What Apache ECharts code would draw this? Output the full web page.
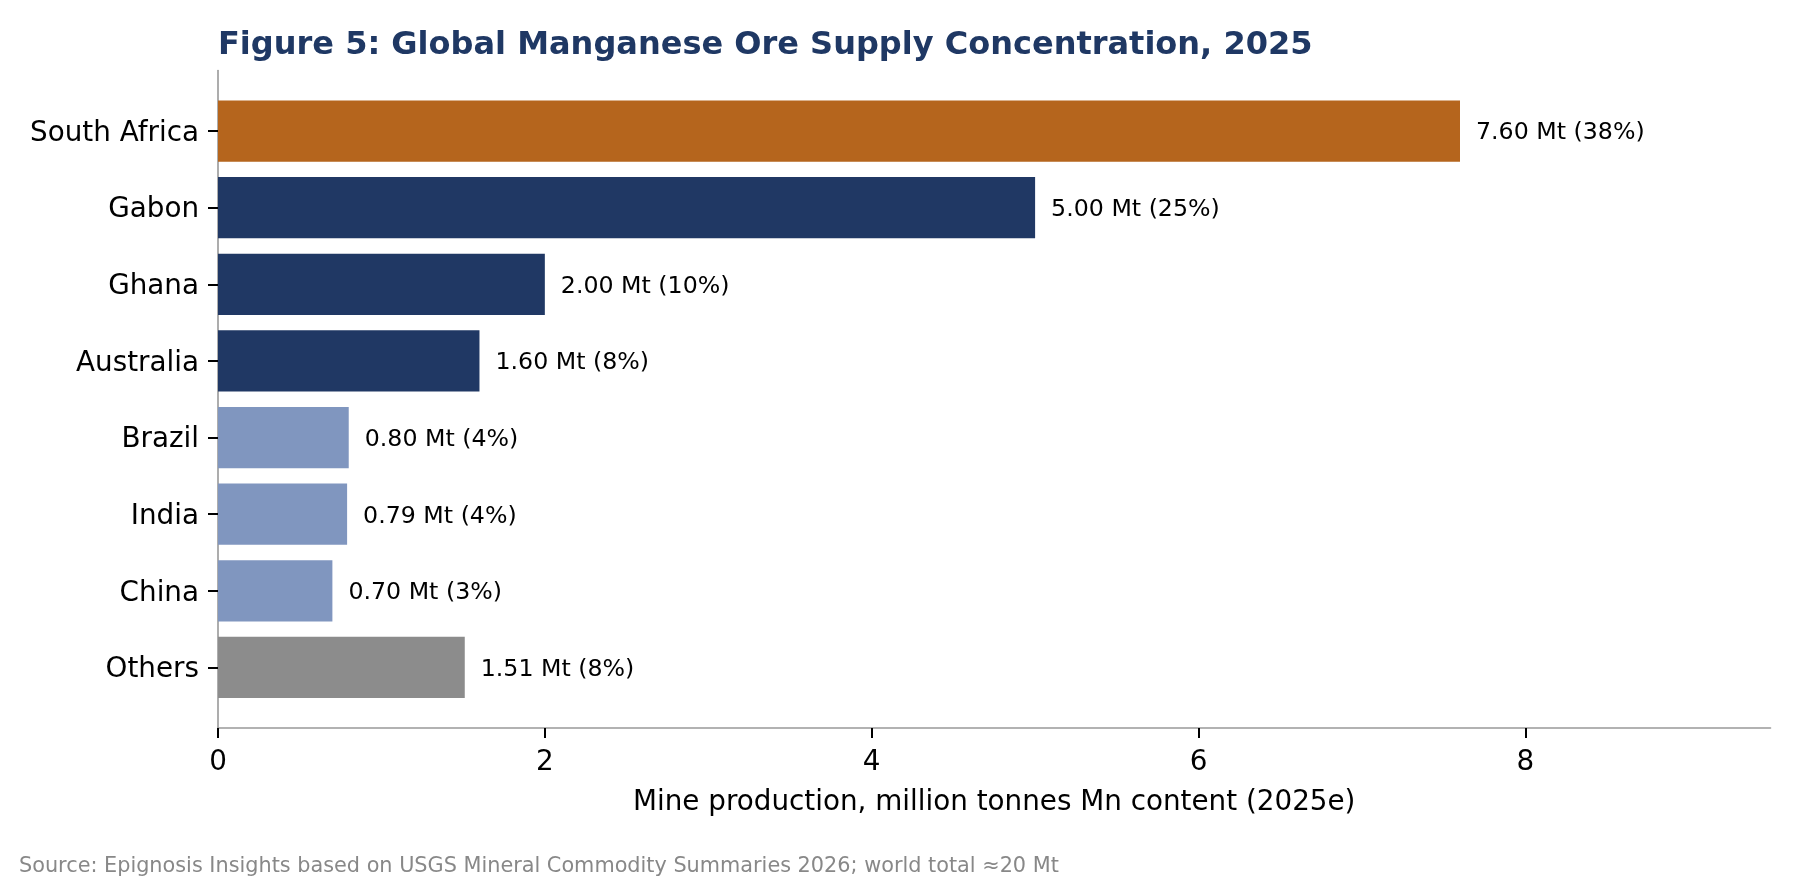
<!DOCTYPE html>
<html>
<head>
<meta charset="utf-8">
<script src="https://cdn.jsdelivr.net/npm/echarts@6/dist/echarts.min.js"></script>
<style>
  html, body { margin: 0; padding: 0; background: #ffffff; }
  #chart { width: 1800px; height: 880px; }
</style>
</head>
<body>
<div id="chart"></div>
<script>
// ---- data ----
const categories = ['South Africa', 'Gabon', 'Ghana', 'Australia', 'Brazil', 'India', 'China', 'Others'];
const production = [7.60, 5.00, 2.00, 1.60, 0.80, 0.79, 0.70, 1.51];   // Mt Mn content (2025e)
const sharePct   = [38, 25, 10, 8, 4, 4, 3, 8];                          // % of world total
const xTicks     = [0, 2, 4, 6, 8];

// ---- styles ----
const groupColor = ['#b5651d', '#203864', '#203864', '#203864', '#8096bf', '#8096bf', '#8096bf', '#8c8c8c'];
const FONT = 'DejaVu Sans';
const BAR_H = 0.8;

const chart = echarts.init(document.getElementById('chart'), null, { renderer: 'canvas' });

const seriesData = production.map((v, i) => [v, i]);

const option = {
  backgroundColor: '#ffffff',
  animation: false,
  title: [
    {
      text: 'Figure 5: Global Manganese Ore Supply Concentration, 2025',
      left: 213,
      top: 25,
      textStyle: { fontFamily: FONT, fontWeight: 'bold', fontSize: 32, color: '#1f3864' }
    },
    {
      text: 'Source: Epignosis Insights based on USGS Mineral Commodity Summaries 2026; world total \u224820 Mt',
      left: 14,
      top: 851,
      textStyle: { fontFamily: FONT, fontWeight: 'normal', fontSize: 20.8, color: '#888888' }
    }
  ],
  grid: { left: 218, right: 29.5, top: 70.5, bottom: 152, containLabel: false },
  xAxis: {
    type: 'value',
    min: 0,
    max: 9.5,
    position: 'bottom',
    name: 'Mine production, million tonnes Mn content (2025e)',
    nameLocation: 'middle',
    nameGap: 61,
    nameTextStyle: { fontFamily: FONT, fontSize: 27.8, color: '#000000' },
    axisLine: { show: true, onZero: false, lineStyle: { color: '#999999', width: 1.6 } },
    axisTick: { show: true, customValues: xTicks, length: 10, lineStyle: { color: '#000000', width: 2 } },
    axisLabel: {
      customValues: xTicks,
      margin: 21,
      fontFamily: FONT, fontSize: 27.8, color: '#000000',
      formatter: v => String(v)
    },
    splitLine: { show: false }
  },
  yAxis: {
    type: 'value',
    inverse: true,
    min: -0.79,
    max: 7.79,
    axisLine: { show: true, onZero: false, lineStyle: { color: '#999999', width: 1.6 } },
    axisTick: { show: true, customValues: categories.map((c, i) => i), length: 10, lineStyle: { color: '#000000', width: 2 } },
    axisLabel: {
      customValues: categories.map((c, i) => i),
      margin: 19,
      verticalAlign: 'top',
      lineHeight: 5,
      fontFamily: FONT, fontSize: 27.8, color: '#000000',
      formatter: v => categories[Math.round(v)] || ''
    },
    splitLine: { show: false }
  },
  series: [{
    type: 'custom',
    data: seriesData,
    encode: { x: 0, y: 1 },
    clip: false,
    renderItem: function (params, api) {
      const v = api.value(0);
      const i = api.value(1);
      const p0 = api.coord([0, i]);
      const p1 = api.coord([v, i]);
      const h = Math.abs(api.size([0, BAR_H])[1]);
      return {
        type: 'rect',
        shape: { x: p0[0], y: p0[1] - h / 2, width: p1[0] - p0[0], height: h },
        style: { fill: groupColor[i] },
        textContent: {
          style: {
            text: production[i].toFixed(2) + ' Mt (' + sharePct[i] + '%)',
            fontFamily: FONT, fontSize: 23.7, fill: '#000000'
          }
        },
        textConfig: { position: 'right', distance: 16, offset: [0, 2.3] }
      };
    }
  }]
};

chart.setOption(option);
</script>
</body>
</html>
